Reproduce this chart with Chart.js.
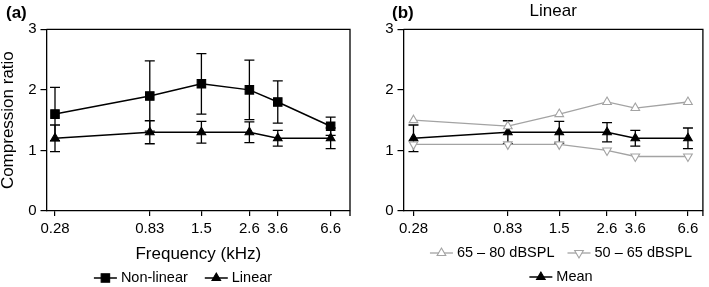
<!DOCTYPE html>
<html>
<head>
<meta charset="utf-8">
<script src="https://cdn.jsdelivr.net/npm/chart.js@4.4.1/dist/chart.umd.min.js"></script>
<style>
  body { margin: 0; background: #fff; }
  #wrap { position: relative; width: 709px; height: 287px; }
  canvas { position: absolute; top: 0; }
</style>
</head>
<body>
<div id="wrap">
  <canvas id="chartA" width="360" height="287" style="left:0"></canvas>
  <canvas id="chartB" width="349" height="287" style="left:360px"></canvas>
</div>
<script>
// frequencies (kHz), shared by both panels
const freqs = [0.28, 0.83, 1.5, 2.6, 3.6, 6.6];
const yTicks = [0, 1, 2, 3];

// panel (a)
const nonLinear = [1.6, 1.9, 2.1, 2.0, 1.8, 1.4];
const nonLinearErr = [0.44, 0.58, 0.5, 0.49, 0.35, 0.15];
const linear = [1.2, 1.3, 1.3, 1.3, 1.2, 1.2];
const linearErr = [0.22, 0.19, 0.18, 0.17, 0.13, 0.17];

// panel (b) - linear group split by level
const loud = [1.5, 1.4, 1.6, 1.8, 1.7, 1.8];   // 65 – 80 dBSPL
const soft = [1.1, 1.1, 1.1, 1.0, 0.9, 0.9];   // 50 – 65 dBSPL
const mean = [1.2, 1.3, 1.3, 1.3, 1.2, 1.2];
const meanErr = [0.22, 0.19, 0.18, 0.16, 0.13, 0.17];

const GREY = '#a3a3a3';
Chart.defaults.font.family = "'Liberation Sans', Arial, sans-serif";
Chart.defaults.color = '#000';

const pts = vals => freqs.map((f, i) => ({ x: f, y: vals[i] }));

// vertical error bars, drawn just before their dataset
const errorBars = {
  id: 'errorBars',
  beforeDatasetDraw(chart, args) {
    const ds = chart.data.datasets[args.index];
    if (!ds.errors) return;
    const { ctx, scales: { x, y } } = chart;
    ctx.save();
    ctx.strokeStyle = ds.borderColor;
    ctx.lineWidth = 1.3;
    ds.data.forEach((p, i) => {
      const px = x.getPixelForValue(p.x);
      const top = y.getPixelForValue(p.y + ds.errors[i]);
      const bot = y.getPixelForValue(p.y - ds.errors[i]);
      ctx.beginPath();
      ctx.moveTo(px, top); ctx.lineTo(px, bot);
      ctx.moveTo(px - 5, top); ctx.lineTo(px + 5, top);
      ctx.moveTo(px - 5, bot); ctx.lineTo(px + 5, bot);
      ctx.stroke();
    });
    ctx.restore();
  }
};

// top and right edges of the box
const frame = {
  id: 'frame',
  beforeDatasetsDraw(chart) {
    const { ctx, chartArea: a } = chart;
    ctx.save();
    ctx.strokeStyle = '#000';
    ctx.lineWidth = 1.3;
    ctx.beginPath();
    ctx.moveTo(a.left, a.top); ctx.lineTo(a.right, a.top); ctx.lineTo(a.right, a.bottom + 5);
    ctx.stroke();
    ctx.restore();
  }
};

// panel letter, (a) / (b)
const panelTag = {
  id: 'panelTag',
  afterDraw(chart, args, opts) {
    const ctx = chart.ctx;
    ctx.save();
    ctx.font = "bold 17px 'Liberation Sans', Arial, sans-serif";
    ctx.fillStyle = '#000';
    ctx.textBaseline = 'alphabetic';
    ctx.fillText(opts.text, opts.x, 18);
    ctx.restore();
  }
};

// legend with a short line through the marker
const lineLegend = {
  id: 'lineLegend',
  afterDraw(chart, args, opts) {
    const ctx = chart.ctx;
    ctx.save();
    ctx.font = "14.5px 'Liberation Sans', Arial, sans-serif";
    ctx.textBaseline = 'middle';
    opts.rows.forEach((row, r) => {
      const y = opts.y[r];
      const widths = row.map(i => 27 + ctx.measureText(chart.data.datasets[i].label).width);
      const total = widths.reduce((a, b) => a + b, 0) + opts.gap * (row.length - 1);
      let x = opts.cx - total / 2;
      row.forEach((i, k) => {
        const ds = chart.data.datasets[i];
        ctx.strokeStyle = ds.borderColor;
        ctx.lineWidth = ds.borderWidth;
        ctx.beginPath(); ctx.moveTo(x, y); ctx.lineTo(x + 23, y); ctx.stroke();
        ctx.fillStyle = ds.pointBackgroundColor;
        ctx.strokeStyle = ds.pointBorderColor;
        ctx.lineWidth = ds.pointBorderWidth;
        Chart.helpers.drawPoint(ctx, {
          pointStyle: ds.pointStyle, radius: ds.pointRadius,
          rotation: ds.pointRotation || 0, borderWidth: ds.pointBorderWidth
        }, x + 11.5, y);
        ctx.fillStyle = '#000';
        ctx.fillText(ds.label, x + 27, y);
        x += widths[k] + opts.gap;
      });
    });
    ctx.restore();
  }
};

function xScale(min, max, height, title) {
  return {
    type: 'logarithmic', min, max,
    afterBuildTicks: s => { s.ticks = freqs.map(v => ({ value: v })); },
    afterFit: s => { s.height = height; },
    ticks: { callback: v => String(v), autoSkip: false, maxRotation: 0, font: { size: 15 }, padding: 4 },
    grid: { drawOnChartArea: false, tickLength: 5, color: '#000', lineWidth: 1.2 },
    border: { color: '#000', width: 1.3 },
    title: title ? { display: true, text: title, font: { size: 17, lineHeight: 1 }, padding: 0 } : { display: false }
  };
}

function yScale(width, title) {
  return {
    type: 'linear', min: 0, max: 3,
    afterBuildTicks: s => { s.ticks = yTicks.map(v => ({ value: v })); },
    afterFit: s => { s.width = width; },
    ticks: { font: { size: 15 }, padding: 4 },
    grid: { drawOnChartArea: false, tickLength: 6, color: '#000', lineWidth: 1.2 },
    border: { color: '#000', width: 1.3 },
    title: title ? { display: true, text: title, font: { size: 17, lineHeight: 1 }, padding: 0 } : { display: false }
  };
}

function series(label, vals, style, color, fill, extra) {
  return Object.assign({
    label, data: pts(vals),
    borderColor: color, borderWidth: color === '#000' ? 1.5 : 1.3,
    pointStyle: style, pointRadius: style === 'rect' ? 6 : 5,
    pointBackgroundColor: fill, pointBorderColor: color, pointBorderWidth: 1.1,
    tension: 0
  }, extra || {});
}

new Chart(document.getElementById('chartA'), {
  type: 'line',
  data: {
    datasets: [
      series('Non-linear', nonLinear, 'rect', '#000', '#000', { errors: nonLinearErr }),
      series('Linear', linear, 'triangle', '#000', '#000', { errors: linearErr })
    ]
  },
  options: {
    responsive: false, animation: false,
    layout: { padding: { top: 29.3, right: 10, bottom: 24.5, left: 0 } },
    scales: { x: xScale(0.254, 8.24, 51.5, 'Frequency (kHz)'), y: yScale(46.5, 'Compression ratio') },
    plugins: {
      legend: { display: false }, tooltip: { enabled: false },
      panelTag: { text: '(a)', x: 6 },
      lineLegend: { rows: [[0, 1]], y: [278], cx: 183, gap: 17 }
    }
  },
  plugins: [frame, errorBars, panelTag, lineLegend]
});

new Chart(document.getElementById('chartB'), {
  type: 'line',
  data: {
    datasets: [
      series('65 – 80 dBSPL', loud, 'triangle', GREY, '#fff'),
      series('50 – 65 dBSPL', soft, 'triangle', GREY, '#fff', { pointRotation: 180 }),
      series('Mean', mean, 'triangle', '#000', '#000', { errors: meanErr })
    ]
  },
  options: {
    responsive: false, animation: false,
    layout: { padding: { top: 0, right: 5.7, bottom: 46, left: 0 } },
    scales: { x: xScale(0.2496, 7.84, 30), y: yScale(43.5) },
    plugins: {
      legend: { display: false }, tooltip: { enabled: false },
      title: { display: true, text: 'Linear', fullSize: false, font: { size: 17, lineHeight: 1, weight: 'normal' }, padding: { top: 3, bottom: 9.3 } },
      panelTag: { text: '(b)', x: 32 },
      lineLegend: { rows: [[0, 1], [2]], y: [253, 277], cx: 201, gap: 13 }
    }
  },
  plugins: [frame, errorBars, panelTag, lineLegend]
});
</script>
</body>
</html>
